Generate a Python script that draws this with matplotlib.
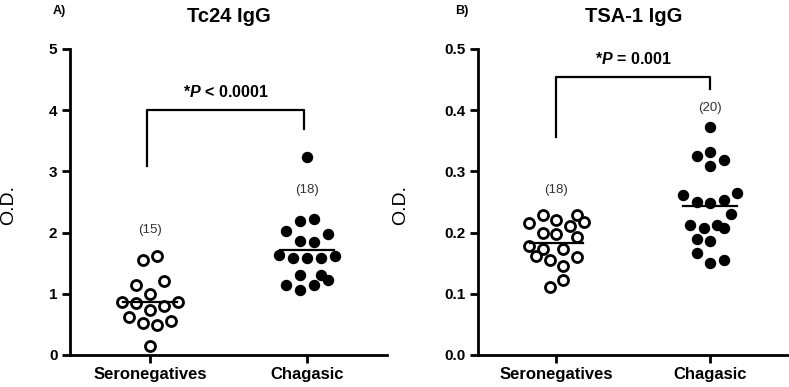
import matplotlib
matplotlib.use('Agg')
import matplotlib.pyplot as plt

plt.rcParams['font.family'] = ['Liberation Sans', 'DejaVu Sans']
plt.rcParams['mathtext.fontset'] = 'custom'
plt.rcParams['mathtext.bfit'] = 'Liberation Sans:italic:bold'
plt.rcParams['mathtext.rm'] = 'Liberation Sans'
plt.rcParams['mathtext.it'] = 'Liberation Sans:italic'
plt.rcParams['mathtext.bf'] = 'Liberation Sans:bold'

groups = ['Seronegatives', 'Chagasic']

# panel A: Tc24 IgG
a_sero = [1.55, 1.61, 1.15, 1.21, 0.99, 0.87, 0.85, 0.74, 0.80, 0.86, 0.62, 0.53, 0.49, 0.56, 0.14]
a_sero_slot = [-1, 1, -2, 2, 0, -4, -2, 0, 2, 4, -3, -1, 1, 3, 0]
a_chag = [3.24, 2.19, 2.22, 2.02, 1.97, 1.87, 1.84, 1.63, 1.58, 1.58, 1.58, 1.61, 1.31, 1.30, 1.23, 1.15, 1.15, 1.06]
a_chag_slot = [0, -1, 1, -3, 3, -1, 1, -4, -2, 0, 2, 4, -1, 2, 3, -3, 1, -1]
a_means = [0.87, 1.71]

# panel B: TSA-1 IgG
b_sero = [0.229, 0.221, 0.229, 0.216, 0.217, 0.210, 0.200, 0.197, 0.193, 0.178, 0.173, 0.174,
          0.162, 0.155, 0.160, 0.145, 0.123, 0.111]
b_sero_slot = [-2, 0, 3, -4, 4, 2, -2, 0, 3, -4, -2, 1, -3, -1, 3, 1, 1, -1]
b_chag = [0.373, 0.325, 0.332, 0.319, 0.308, 0.261, 0.250, 0.248, 0.254, 0.265, 0.231, 0.212,
          0.208, 0.212, 0.207, 0.190, 0.186, 0.167, 0.156, 0.150]
b_chag_slot = [0, -2, 0, 2, 0, -4, -2, 0, 2, 4, 3, -3, -1, 1, 2, -2, 0, -2, 2, 0]
b_means = [0.183, 0.243]

fig = plt.figure(figsize=(7.89, 3.87), dpi=100)
axA = fig.add_axes([0.0887, 0.0827, 0.4018, 0.7907])
axB = fig.add_axes([0.6058, 0.0827, 0.394, 0.7907])

step = 0.044


def draw(ax, sero, sero_slot, chag, chag_slot, means, ymax, yticks, fmt, label_x):
    ax.scatter([0 + s * step for s in sero_slot], sero, s=52, facecolors='white',
               edgecolors='black', linewidths=2, zorder=3, clip_on=False)
    ax.scatter([1 + s * step for s in chag_slot], chag, s=52, facecolors='black',
               edgecolors='black', linewidths=1, zorder=3, clip_on=False)
    for i, m in enumerate(means):
        ax.plot([i - 0.175, i + 0.175], [m, m], color='black', lw=1.6, zorder=4)
    ax.set_xlim(-0.51, 1.51)
    ax.set_ylim(0, ymax)
    ax.set_yticks(yticks)
    ax.set_yticklabels([fmt.format(t) for t in yticks], fontweight='bold', fontsize=11)
    ax.set_xticks([0, 1])
    ax.set_xticklabels(groups, fontweight='bold', fontsize=12)
    for sp in ['top', 'right']:
        ax.spines[sp].set_visible(False)
    for sp in ['left', 'bottom']:
        ax.spines[sp].set_linewidth(2)
    ax.tick_params(width=2, length=6, direction='out', pad=3)
    ax.set_ylabel('O.D.', fontsize=14)
    ax.yaxis.set_label_coords(label_x, 0.49)


draw(axA, a_sero, a_sero_slot, a_chag, a_chag_slot, a_means, 5, [0, 1, 2, 3, 4, 5], '{:.0f}', -0.168)
draw(axB, b_sero, b_sero_slot, b_chag, b_chag_slot, b_means, 0.5,
     [0.0, 0.1, 0.2, 0.3, 0.4, 0.5], '{:.1f}', -0.222)

# brackets and p values
axA.plot([-0.02, -0.02, 0.98, 0.98], [3.08, 4.0, 4.0, 3.69], color='black', lw=1.6)
axA.text(0.48, 4.3, r'*$\bfit{P}$ < 0.0001', ha='center', va='center', fontsize=11.5, fontweight='bold')
axB.plot([0, 0, 1, 1], [0.357, 0.454, 0.454, 0.435], color='black', lw=1.6)
axB.text(0.5, 0.483, r'*$\bfit{P}$ = 0.001', ha='center', va='center', fontsize=11.5, fontweight='bold')

# group sizes
axA.text(0, 2.05, '(15)', ha='center', va='center', fontsize=9.5, color='#333333')
axA.text(1, 2.70, '(18)', ha='center', va='center', fontsize=9.5, color='#333333')
axB.text(0, 0.270, '(18)', ha='center', va='center', fontsize=9.5, color='#333333')
axB.text(1, 0.404, '(20)', ha='center', va='center', fontsize=9.5, color='#333333')

# titles and panel letters
fig.text(229 / 789, 1 - 16 / 387, 'Tc24 IgG', ha='center', va='center', fontsize=14.5, fontweight='bold')
fig.text(634 / 789, 1 - 16 / 387, 'TSA-1 IgG', ha='center', va='center', fontsize=14.5, fontweight='bold')
fig.text(53 / 789, 1 - 11 / 387, 'A)', ha='left', va='center', fontsize=9, fontweight='bold')
fig.text(455 / 789, 1 - 11 / 387, 'B)', ha='left', va='center', fontsize=9, fontweight='bold')

fig.savefig('out.png', dpi=100)
